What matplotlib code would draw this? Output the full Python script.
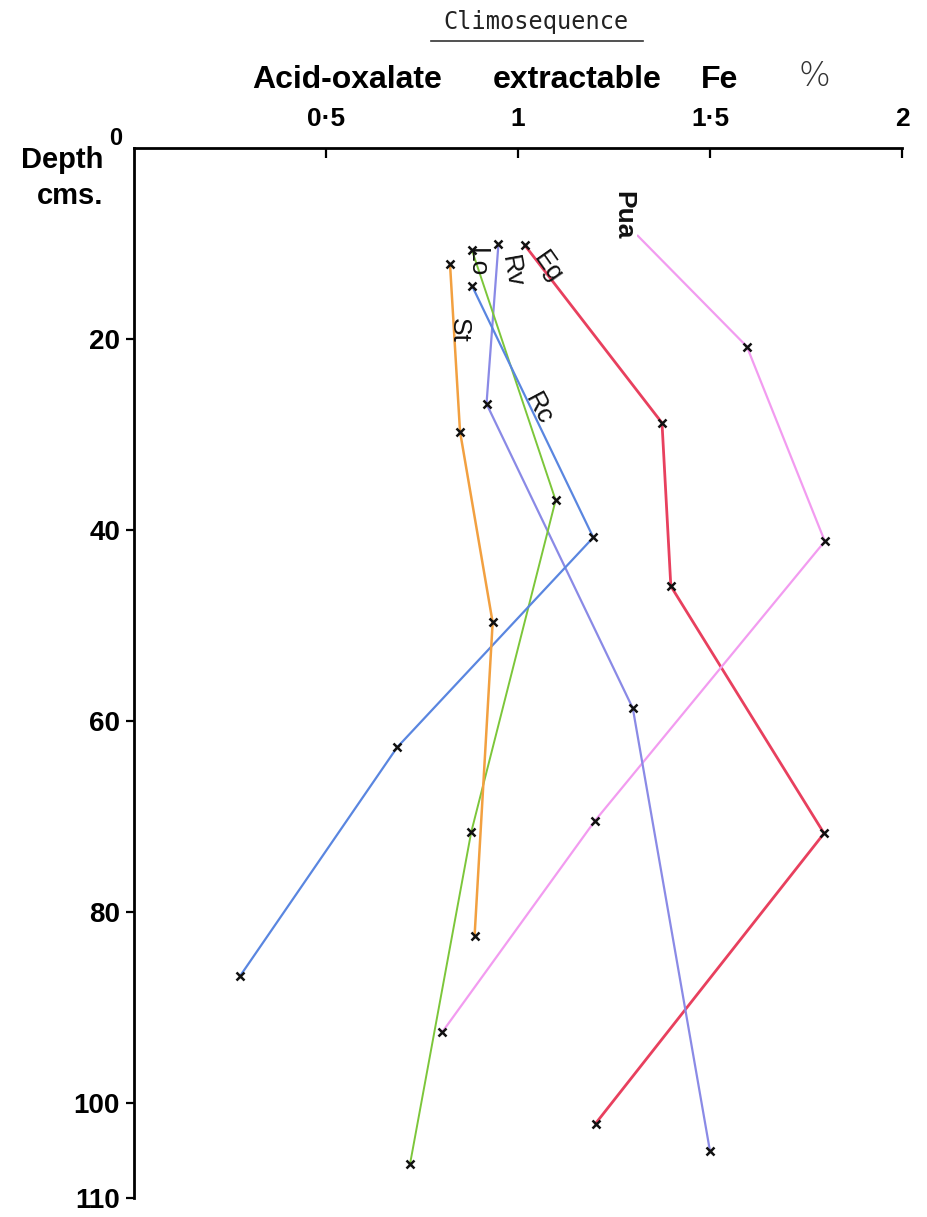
import matplotlib
matplotlib.use("Agg")
import matplotlib.pyplot as plt
from matplotlib import font_manager
from matplotlib.lines import Line2D

# ---- data ----
eg_x = [1.018, 1.375, 1.398, 1.797, 1.202]
eg_d = [10.2, 28.8, 45.9, 71.8, 102.2]

pua_x = [1.312, 1.596, 1.799, 1.200, 0.803]
pua_d = [9.2, 20.8, 41.2, 70.5, 92.6]

rv_x = [0.949, 0.918, 1.299, 1.500]
rv_d = [10.1, 26.8, 58.7, 105.1]

lo_x = [0.880, 1.098, 0.878, 0.719]
lo_d = [10.7, 36.9, 71.7, 106.4]

rc_x = [0.881, 1.196, 0.685, 0.277]
rc_d = [14.5, 40.8, 62.8, 86.7]

st_x = [0.823, 0.849, 0.934, 0.887]
st_d = [12.2, 29.7, 49.7, 82.5]

x_ticks = [0.5, 1, 1.5, 2]
x_ticklabels = ["0·5", "1", "1·5", "2"]
y_ticks = [20, 40, 60, 80, 100, 110]
y_ticklabels = ["20", "40", "60", "80", "100", "110"]

available = {f.name for f in font_manager.fontManager.ttflist}
narrow = "Liberation Sans Narrow" if "Liberation Sans Narrow" in available else "Liberation Sans"

W, H = 928, 1217
fig = plt.figure(figsize=(W / 100, H / 100), dpi=100)
ax = fig.add_axes([134 / W, 1 - 1198 / H, (902 - 134) / W, (1198 - 148) / H])
ax.set_xlim(0, 2)
ax.set_ylim(110, 0)

series = [
    (eg_x, eg_d, "#e8405e", 2.0, None),
    (pua_x, pua_d, "#f29cf0", 1.6, [1, 2, 3, 4]),
    (rv_x, rv_d, "#8a8ae6", 1.6, None),
    (lo_x, lo_d, "#7cc63a", 1.4, None),
    (rc_x, rc_d, "#5a86e0", 1.6, None),
    (st_x, st_d, "#f2a040", 1.8, None),
]
for xs, ds, col, lw, me in series:
    ax.plot(xs, ds, color=col, lw=lw, zorder=2)
    ax.plot(xs, ds, linestyle="none", marker="x", ms=6, mew=1.8,
            color="#111111", markevery=me, zorder=3)

# series labels
lab_kw = dict(fontsize=19, family="Liberation Sans", color="#111111",
              ha="center", va="center")
ax.text(1.275, 7.0, "Pua", rotation=-90, fontweight="bold",
        bbox=dict(facecolor="white", edgecolor="none", pad=1), **lab_kw)
ax.text(1.078, 12.5, "Eg", rotation=-55, **lab_kw)
ax.text(0.982, 13.0, "Rv", rotation=-80, **lab_kw)
ax.text(0.893, 12.0, "Lo", rotation=-90, **lab_kw)
ax.text(0.846, 19.1, "St", rotation=-90, **lab_kw)
ax.text(1.054, 27.3, "Rc", rotation=-62, **lab_kw)

# axes styling
for s in ["right", "bottom"]:
    ax.spines[s].set_visible(False)
ax.spines["top"].set_linewidth(2)
ax.spines["left"].set_linewidth(2)
ax.spines["left"].set_bounds(0, 110)

ax.xaxis.tick_top()
ax.set_xticks(x_ticks)
ax.set_xticklabels(x_ticklabels, fontsize=19, fontweight="bold", family=narrow)
ax.tick_params(axis="x", direction="in", length=7, width=1.6, pad=12)

ax.set_yticks(y_ticks)
ax.set_yticklabels(y_ticklabels, fontsize=20, fontweight="bold", family=narrow)
ax.tick_params(axis="y", direction="out", length=6, width=1.6, pad=4)

# figure texts
fig.text(536 / W, 1 - 22 / H, "Climosequence", fontsize=17, family="DejaVu Sans Mono",
         ha="center", va="center", color="#222222")
fig.add_artist(Line2D([431 / W, 643 / W], [1 - 41 / H, 1 - 41 / H],
                      transform=fig.transFigure, color="#333333", lw=1.2))
fig.text(347 / W, 1 - 80 / H, "Acid-oxalate", fontsize=23, fontweight="bold",
         family=narrow, ha="center", va="center")
fig.text(577 / W, 1 - 80 / H, "extractable", fontsize=23, fontweight="bold",
         family=narrow, ha="center", va="center")
fig.text(720 / W, 1 - 80 / H, "Fe", fontsize=23, fontweight="bold",
         family=narrow, ha="center", va="center")
fig.text(814 / W, 1 - 76 / H, "%", fontsize=24, fontweight="light",
         family="DejaVu Sans", ha="center", va="center", color="#333333")
fig.text(62 / W, 1 - 160 / H, "Depth", fontsize=21, fontweight="bold",
         family="Liberation Sans", ha="center", va="center")
fig.text(116 / W, 1 - 150 / H, "0", fontsize=17, fontweight="bold",
         family=narrow, ha="center", va="bottom")
fig.text(70 / W, 1 - 196 / H, "cms.", fontsize=21, fontweight="bold",
         family="Liberation Sans", ha="center", va="center")

fig.savefig("out.png", dpi=100, facecolor="white")
